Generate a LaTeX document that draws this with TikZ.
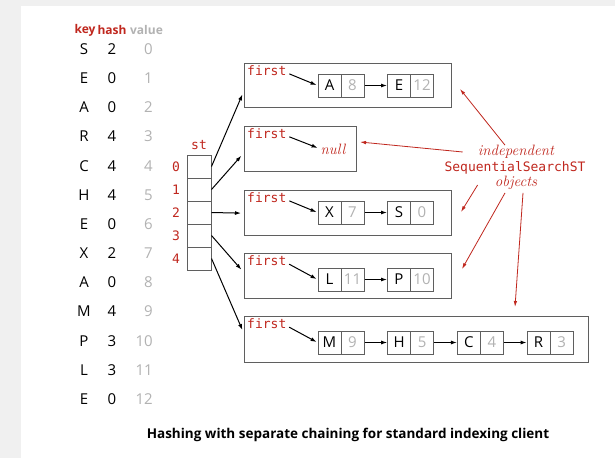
\documentclass[tikz,border=0pt]{standalone}
\usepackage{fontspec}
\setsansfont{Open Sans}
\setmonofont{DejaVu Sans Mono}
\usetikzlibrary{arrows.meta,positioning}

\definecolor{bookred}{RGB}{192,39,30}
\definecolor{valgray}{RGB}{178,178,178}
\definecolor{boxgray}{RGB}{95,95,95}

\tikzset{
  tbl/.style={inner sep=0pt, font=\sffamily\fontsize{15}{15}\selectfont},
  hdr/.style={inner sep=0pt, font=\sffamily\bfseries\fontsize{12}{12}\selectfont},
  mono/.style={inner sep=0pt, bookred, font=\ttfamily\fontsize{13}{13}\selectfont},
  ital/.style={inner sep=0pt, bookred, font=\itshape\fontsize{15}{15}\selectfont},
  cell/.style={draw=boxgray, line width=1pt, minimum width=23pt, minimum height=23pt,
    inner sep=0pt, font=\sffamily\fontsize{15}{15}\selectfont},
  listbox/.style={draw=boxgray, line width=1.4pt, inner sep=0pt, anchor=north west},
  ptr/.style={-{Latex[length=6pt,width=4pt]}, line width=1pt},
  note/.style={bookred, -{Latex[length=6pt,width=3.5pt]}, line width=0.8pt},
}

\begin{document}
\begin{tikzpicture}[x=1pt,y=-1pt]
\useasboundingbox (0,0) rectangle (615,458);
\fill[black!6] (0,0) rectangle (615,458);
\fill[white] (21,6) rectangle (615,458);

% the input: key, hash, value
\node[hdr, bookred] (hkey) at (85,30) {key};
\node[hdr, bookred] (hhash) at (112,30) {hash};
\node[hdr, valgray] (hval) at (146.5,30) {value};
\foreach \k/\h/\v [count=\i from 0] in {S/2/0,E/0/1,A/0/2,R/4/3,C/4/4,H/4/5,E/0/6,
    X/2/7,A/0/8,M/4/9,P/3/10,L/3/11,E/0/12}{
  \node[tbl] (key\i) at (84,49+29.17*\i) {\k};
  \node[tbl] (hash\i) at (112,49+29.17*\i) {\h};
  \node[tbl, valgray, anchor=east] (val\i) at (153,49+29.17*\i) {\v};
}

% the array st[]
\node[mono] (stname) at (199,145) {st};
\foreach \i in {0,...,4}{
  \node[cell, minimum width=24pt] (st\i) at (199,166.5+23*\i) {};
  \node[mono] (idx\i) at (176,166.5+23*\i) {\i};
}

% one SequentialSearchST per slot
\node[listbox, minimum width=207pt, minimum height=44pt] (list0) at (244,63) {};
\node[listbox, minimum width=112pt, minimum height=45pt] (list1) at (244,126) {};
\node[listbox, minimum width=207pt, minimum height=45pt] (list2) at (244,190) {};
\node[listbox, minimum width=207pt, minimum height=45pt] (list3) at (244,253) {};
\node[listbox, minimum width=344pt, minimum height=46pt] (list4) at (244,316) {};

\draw[ptr, shorten >=4pt] (st0.east) -- ([yshift=-5pt]list0.west);
\draw[ptr, shorten >=4pt] (st1.east) -- ([yshift=-3.5pt]list1.west);
\draw[ptr, shorten >=3pt] (st2.east) -- (list2.west);
\draw[ptr, shorten >=4pt] (st3.east) -- ([yshift=3.5pt]list3.west);
\draw[ptr, shorten >=4pt] (st4.east) -- ([yshift=6pt]list4.west);

\foreach \i in {0,...,4}
  \node[mono, anchor=north west] (first\i) at ([shift={(3pt,-2.5pt)}]list\i.north west) {first};

% slot 0
\foreach \k/\v [count=\j from 0] in {A/8,E/12}{
  \node[cell] (ka\j) at (329.5+69.5*\j,85.5) {\k};
  \node[cell, text=valgray] (va\j) at (352.5+69.5*\j,85.5) {\v};
}
\draw[ptr, shorten <=3pt, shorten >=1pt] ([yshift=-2pt]first0.east) -- (ka0.west);
\draw[ptr] (va0.east) -- (ka1.west);

% slot 1
\node[ital] (null1) at (333,149) {null};
\draw[ptr, shorten <=3pt, shorten >=3pt] ([yshift=-2pt]first1.east) -- (null1.west);

% slot 2
\foreach \k/\v [count=\j from 0] in {X/7,S/0}{
  \node[cell] (kc\j) at (329.5+69.5*\j,212.5) {\k};
  \node[cell, text=valgray] (vc\j) at (352.5+69.5*\j,212.5) {\v};
}
\draw[ptr, shorten <=3pt, shorten >=1pt] ([yshift=-2pt]first2.east) -- (kc0.west);
\draw[ptr] (vc0.east) -- (kc1.west);

% slot 3
\foreach \k/\v [count=\j from 0] in {L/11,P/10}{
  \node[cell] (kd\j) at (329.5+69.5*\j,279.5) {\k};
  \node[cell, text=valgray] (vd\j) at (352.5+69.5*\j,279.5) {\v};
}
\draw[ptr, shorten <=3pt, shorten >=1pt] ([yshift=-2pt]first3.east) -- (kd0.west);
\draw[ptr] (vd0.east) -- (kd1.west);

% slot 4
\foreach \k/\v [count=\j from 0] in {M/9,H/5,C/4,R/3}{
  \node[cell] (ke\j) at (329.5+69.7*\j,342.5) {\k};
  \node[cell, text=valgray] (ve\j) at (352.5+69.7*\j,342.5) {\v};
}
\draw[ptr, shorten <=3pt, shorten >=1pt] ([yshift=-2pt]first4.east) -- (ke0.west);
\foreach \j [evaluate=\j as \n using int(\j+1)] in {0,1,2}
  \draw[ptr] (ve\j.east) -- (ke\n.west);

% labels
\node[ital] (indep) at (516,152) {independent};
\node[mono] (ssst) at (515,168) {SequentialSearchST};
\node[ital] (objs) at (516,183) {objects};

\coordinate (tip0) at (460,89);
\coordinate (tip1) at (360,142);
\coordinate (tip2) at (461,212);
\coordinate (tip3) at (462,269);
\coordinate (tip4) at (515,307);
\draw[note] ([xshift=-11pt]indep.north) -- (tip0);
\draw[note] ([xshift=-15pt]indep.west) -- (tip1);
\draw[note] ([xshift=-17pt,yshift=-2pt]objs.west) -- (tip2);
\draw[note] ([xshift=-11pt,yshift=-3pt]objs.south) -- (tip3);
\draw[note] ([xshift=7pt,yshift=-3pt]objs.south) -- (tip4);

\node[font=\sffamily\bfseries\fontsize{13.5}{13.5}\selectfont] (caption) at (348,435)
  {Hashing with separate chaining for standard indexing client};
\end{tikzpicture}
\end{document}
